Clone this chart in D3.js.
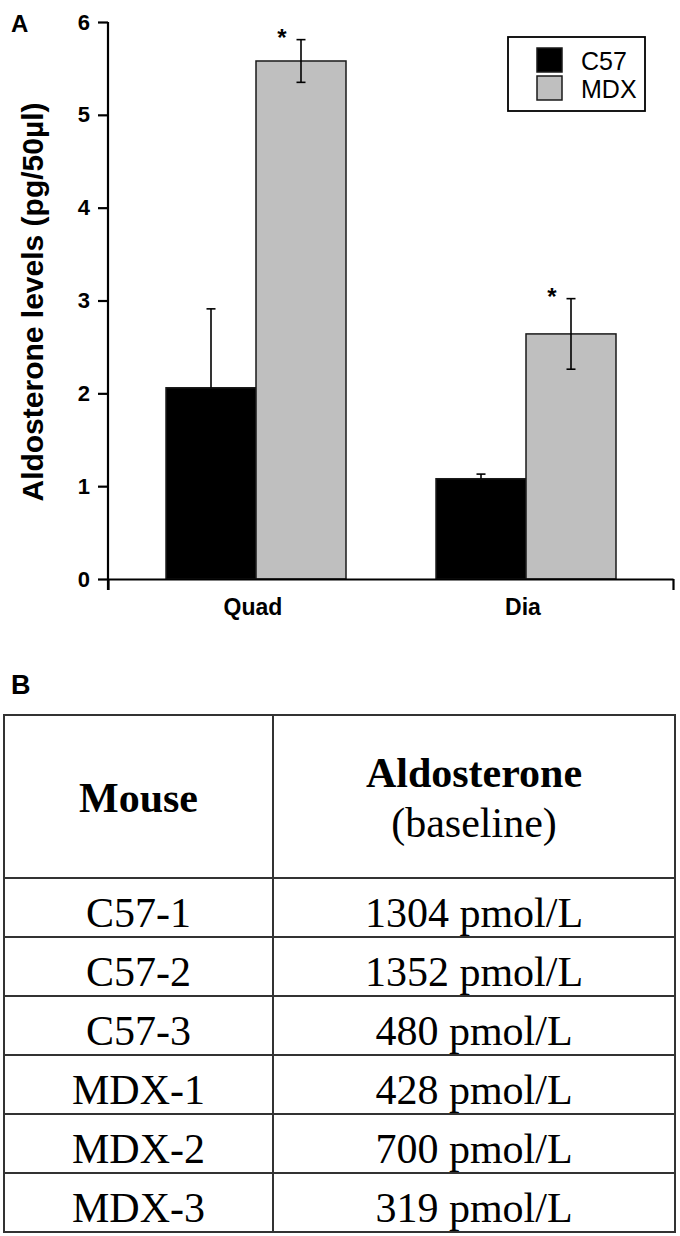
<!DOCTYPE html>
<html>
<head>
<meta charset="utf-8">
<script src="https://cdn.jsdelivr.net/npm/d3@7"></script>
<style>
  body { margin: 0; background: #fff; }
  svg { display: block; }
</style>
</head>
<body>
<svg width="680" height="1236"></svg>
<script>
// panel A data
var muscles = ['Quad', 'Dia'];
var strains = ['C57', 'MDX'];
var c57Mean = [2.06, 1.08];
var c57Err = [0.85, 0.05];
var mdxMean = [5.58, 2.64];
var mdxErr = [0.23, 0.38];
var yTicks = [0, 1, 2, 3, 4, 5, 6];

// panel B data
var mice = ['C57-1', 'C57-2', 'C57-3', 'MDX-1', 'MDX-2', 'MDX-3'];
var aldoBaseline = [1304, 1352, 480, 428, 700, 319];
var unit = 'pmol/L';

var svg = d3.select('svg');
var sans = 'Liberation Sans, Arial, Helvetica, sans-serif';
var serif = 'Liberation Serif, Times New Roman, serif';

// build rows for the bars
var barData = [];
for (var i = 0; i < muscles.length; i++) {
    barData.push({ muscle: muscles[i], strain: 'C57', mean: c57Mean[i], err: c57Err[i], twoSided: false });
    barData.push({ muscle: muscles[i], strain: 'MDX', mean: mdxMean[i], err: mdxErr[i], twoSided: true });
}

var yScale = d3.scaleLinear().domain([0, 6]).range([579, 22]);
var x0 = d3.scaleBand().domain(muscles).range([121, 661]).paddingInner(1 / 3).paddingOuter(1 / 6);
var x1 = d3.scaleBand().domain(strains).range([0, x0.bandwidth()]);
var color = d3.scaleOrdinal().domain(strains).range(['#000000', '#bfbfbf']);

// bars
svg.append('g')
    .selectAll('rect')
    .data(barData)
    .enter()
    .append('rect')
    .attr('x', function (d) { return x0(d.muscle) + x1(d.strain); })
    .attr('y', function (d) { return yScale(d.mean); })
    .attr('width', x1.bandwidth())
    .attr('height', function (d) { return yScale(0) - yScale(d.mean); })
    .attr('fill', function (d) { return color(d.strain); })
    .attr('stroke', '#1a1a1a')
    .attr('stroke-width', 1.5);

// error bars
var eb = svg.append('g').attr('stroke', '#000').attr('stroke-width', 1.6);
barData.forEach(function (d) {
    var cx = x0(d.muscle) + x1(d.strain) + x1.bandwidth() / 2;
    var top = yScale(d.mean + d.err);
    var bot = d.twoSided ? yScale(d.mean - d.err) : yScale(d.mean);
    eb.append('line').attr('x1', cx).attr('x2', cx).attr('y1', top).attr('y2', bot);
    eb.append('line').attr('x1', cx - 4.5).attr('x2', cx + 4.5).attr('y1', top).attr('y2', top);
    if (d.twoSided) {
        eb.append('line').attr('x1', cx - 4.5).attr('x2', cx + 4.5).attr('y1', bot).attr('y2', bot);
        // significance star
        svg.append('text')
            .attr('x', cx - 19)
            .attr('y', top + 6)
            .attr('text-anchor', 'middle')
            .style('font-family', sans)
            .style('font-weight', 'bold')
            .style('font-size', '24px')
            .text('*');
    }
});

// y axis
var yAxis = svg.append('g')
    .attr('transform', 'translate(108,0)')
    .call(d3.axisLeft(yScale).tickValues(yTicks).tickFormat(d3.format('d')).tickSize(10).tickSizeOuter(0).tickPadding(8));
yAxis.select('.domain').attr('stroke-width', 2.2).attr('d', 'M0,22V590');
yAxis.selectAll('.tick line').attr('stroke-width', 2.2);
yAxis.selectAll('.tick text')
    .style('font-family', sans)
    .style('font-weight', 'bold')
    .style('font-size', '22px')
    .attr('fill', '#000');

// x axis line with end ticks
var xLine = d3.scaleLinear().domain([0, 1]).range([108, 673]);
var xAxis = svg.append('g')
    .attr('transform', 'translate(0,579)')
    .call(d3.axisBottom(xLine).tickValues([0, 1]).tickSize(11).tickSizeOuter(0).tickFormat(''));
xAxis.select('.domain').attr('stroke-width', 2.2);
xAxis.selectAll('.tick line').attr('stroke-width', 2.2);

// category labels
svg.append('g')
    .selectAll('text')
    .data(muscles)
    .enter()
    .append('text')
    .attr('x', function (d) { return x0(d) + x0.bandwidth() / 2 - 3; })
    .attr('y', 615)
    .attr('text-anchor', 'middle')
    .style('font-family', sans)
    .style('font-weight', 'bold')
    .style('font-size', '23px')
    .text(function (d) { return d; });

// y title
svg.append('text')
    .attr('transform', 'translate(43,302)rotate(-90)')
    .attr('text-anchor', 'middle')
    .style('font-family', sans)
    .style('font-weight', 'bold')
    .style('font-size', '30px')
    .text('Aldosterone levels (pg/50\u00b5l)');

// legend
var legend = svg.append('g');
legend.append('rect')
    .attr('x', 508).attr('y', 37).attr('width', 137).attr('height', 74)
    .attr('fill', '#fff').attr('stroke', '#000').attr('stroke-width', 1.8);
strains.forEach(function (s, i) {
    legend.append('rect')
        .attr('x', 537).attr('y', 48 + i * 28).attr('width', 25).attr('height', 24)
        .attr('fill', color(s)).attr('stroke', '#1a1a1a').attr('stroke-width', 1.5);
    legend.append('text')
        .attr('x', 581).attr('y', 70 + i * 28)
        .style('font-family', sans)
        .style('font-size', '25px')
        .text(s);
});

// panel letters
svg.append('text').attr('x', 11).attr('y', 32)
    .style('font-family', sans).style('font-weight', 'bold').style('font-size', '24px').text('A');
svg.append('text').attr('x', 11).attr('y', 694)
    .style('font-family', sans).style('font-weight', 'bold').style('font-size', '27px').text('B');

// panel B table
var colEdges = [4, 273, 675];
var tableTop = 715, headBottom = 878, tableBottom = 1232;
var rowScale = d3.scaleBand().domain(d3.range(mice.length)).range([headBottom, tableBottom]);
var tbl = svg.append('g');
var lines = tbl.append('g').attr('stroke', '#333').attr('stroke-width', 2);

lines.append('rect')
    .attr('x', colEdges[0]).attr('y', tableTop)
    .attr('width', colEdges[2] - colEdges[0]).attr('height', tableBottom - tableTop)
    .attr('fill', 'none');
lines.append('line')
    .attr('x1', colEdges[1]).attr('x2', colEdges[1]).attr('y1', tableTop).attr('y2', tableBottom);
lines.selectAll('.hline')
    .data(d3.range(mice.length))
    .enter()
    .append('line')
    .attr('class', 'hline')
    .attr('x1', colEdges[0]).attr('x2', colEdges[2])
    .attr('y1', function (d) { return rowScale(d); })
    .attr('y2', function (d) { return rowScale(d); });

var c1 = (colEdges[0] + colEdges[1]) / 2;
var c2 = (colEdges[1] + colEdges[2]) / 2;

tbl.append('text').attr('x', c1).attr('y', 812).attr('text-anchor', 'middle')
    .style('font-family', serif).style('font-weight', 'bold').style('font-size', '42px').text('Mouse');
tbl.append('text').attr('x', c2).attr('y', 787).attr('text-anchor', 'middle')
    .style('font-family', serif).style('font-weight', 'bold').style('font-size', '42px').text('Aldosterone');
tbl.append('text').attr('x', c2).attr('y', 837).attr('text-anchor', 'middle')
    .style('font-family', serif).style('font-size', '42px').text('(baseline)');

tbl.selectAll('.mouse')
    .data(mice)
    .enter()
    .append('text')
    .attr('class', 'mouse')
    .attr('x', c1)
    .attr('y', function (d, i) { return rowScale(i) + 49; })
    .attr('text-anchor', 'middle')
    .style('font-family', serif)
    .style('font-size', '42px')
    .text(function (d) { return d; });

tbl.selectAll('.val')
    .data(aldoBaseline)
    .enter()
    .append('text')
    .attr('class', 'val')
    .attr('x', c2)
    .attr('y', function (d, i) { return rowScale(i) + 49; })
    .attr('text-anchor', 'middle')
    .style('font-family', serif)
    .style('font-size', '42px')
    .text(function (d) { return d + ' ' + unit; });
</script>
</body>
</html>
